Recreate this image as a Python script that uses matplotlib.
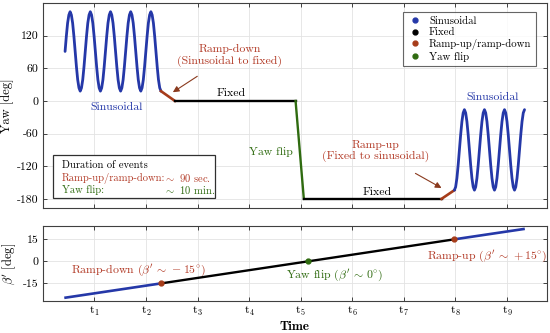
import numpy as np
import matplotlib
matplotlib.use("Agg")
import matplotlib.pyplot as plt
from matplotlib.lines import Line2D
from matplotlib.patches import Rectangle

plt.rcParams['font.family'] = ['cmr10', 'DejaVu Serif']
plt.rcParams['mathtext.fontset'] = 'cm'
plt.rcParams['axes.unicode_minus'] = False

# colours
BLUE = '#2538a8'
RAMP = '#a63c1a'
GREEN = '#2f6b10'
RED_TXT = '#b23a26'

# yaw schedule (time in units of t_k)
sin1_t = np.linspace(0.43, 2.29, 77)
sin1_yaw = [91, 119, 143, 158, 164, 158, 143, 119, 91, 63, 39, 24, 18, 24, 39, 63,
            91, 119, 143, 158, 164, 158, 143, 119, 91, 63, 39, 24, 18, 24, 39, 63,
            91, 119, 143, 158, 164, 158, 143, 119, 91, 63, 39, 24, 18, 24, 39, 63,
            91, 119, 143, 158, 164, 158, 143, 119, 91, 63, 39, 24, 18, 24, 39, 63,
            91, 119, 143, 158, 164, 158, 143, 119, 91, 63, 39, 24, 18]
ramp_down_t = [2.29, 2.56]
ramp_down_yaw = [18, 0]
fixed1_t = [2.56, 4.90]
fixed1_yaw = [0, 0]
flip_t = [4.90, 5.06]
flip_yaw = [0, -180]
fixed2_t = [5.06, 7.73]
fixed2_yaw = [-180, -180]
ramp_up_t = [7.73, 7.98]
ramp_up_yaw = [-180, -164]
sin2_t = np.linspace(7.98, 9.34, 57)
sin2_yaw = [-164, -158, -142, -118, -90, -62, -38, -22, -16, -22, -38, -62, -90, -118, -142, -158,
            -164, -158, -142, -118, -90, -62, -38, -22, -16, -22, -38, -62, -90, -118, -142, -158,
            -164, -158, -142, -118, -90, -62, -38, -22, -16, -22, -38, -62, -90, -118, -142, -158,
            -164, -158, -142, -118, -90, -62, -38, -22, -16]

# beta prime
beta_t = [0.44, 2.29, 5.14, 7.98, 9.32]
beta = [-24.7, -15, 0, 15, 22]

xticks = [1, 2, 3, 4, 5, 6, 7, 8, 9]
xticklabels = [r'$\mathrm{t}_{%d}$' % k for k in xticks]
yaw_ticks = [120, 60, 0, -60, -120, -180]
yaw_labels = ['120', '60', '0', '-60', '-120', '-180']
beta_ticks = [15, 0, -15]
beta_labels = ['15', '0', '-15']

fig = plt.figure(figsize=(5.5, 3.33), dpi=100)
ax1 = fig.add_axes([0.078, 0.375, 0.916, 0.616])
ax2 = fig.add_axes([0.078, 0.096, 0.916, 0.225])

for ax in (ax1, ax2):
    ax.set_xlim(0, 9.77)
    ax.set_xticks(xticks)
    ax.grid(True, color='#e3e3e3', linewidth=0.6)
    ax.set_axisbelow(True)
    ax.tick_params(direction='in', top=True, right=True, length=3,
                   width=0.7, color='#404040', labelsize=8.5, pad=3)
    for s in ax.spines.values():
        s.set_color('#404040')
        s.set_linewidth(0.8)

# ---- top: yaw
ax1.plot(sin1_t, sin1_yaw, color=BLUE, lw=2.0, solid_capstyle='round', solid_joinstyle='round')
ax1.plot(ramp_down_t, ramp_down_yaw, color=RAMP, lw=1.9)
ax1.plot(fixed1_t, fixed1_yaw, color='black', lw=1.7)
ax1.plot(flip_t, flip_yaw, color=GREEN, lw=1.7)
ax1.plot(fixed2_t, fixed2_yaw, color='black', lw=1.7)
ax1.plot(ramp_up_t, ramp_up_yaw, color=RAMP, lw=1.9)
ax1.plot(sin2_t, sin2_yaw, color=BLUE, lw=2.0, solid_capstyle='round', solid_joinstyle='round')

ax1.set_ylim(-197, 180)
ax1.set_yticks(yaw_ticks)
ax1.set_yticklabels(yaw_labels)
ax1.set_xticklabels([])
ax1.set_ylabel('Yaw [deg]', fontsize=9, labelpad=2)

ax1.text(1.43, -11, 'Sinusoidal', color=BLUE, fontsize=8.5, ha='center', va='center')
ax1.text(8.72, 7, 'Sinusoidal', color=BLUE, fontsize=8.5, ha='center', va='center')
ax1.text(3.66, 15, 'Fixed', color='black', fontsize=8.5, ha='center', va='center')
ax1.text(6.49, -167, 'Fixed', color='black', fontsize=8.5, ha='center', va='center')
ax1.text(4.42, -94, 'Yaw flip', color=GREEN, fontsize=8.5, ha='center', va='center')

ax1.annotate('Ramp-down\n(Sinusoidal to fixed)', xy=(2.52, 16), xytext=(3.62, 84),
             color=RED_TXT, fontsize=8.5, ha='center', va='center', multialignment='center',
             arrowprops=dict(arrowstyle='-|>', color='#8a3a1e', lw=0.8,
                             shrinkA=9, shrinkB=0, mutation_scale=9))
ax1.annotate('Ramp-up\n(Fixed to sinusoidal)', xy=(7.73, -160), xytext=(6.45, -92),
             color=RED_TXT, fontsize=8.5, ha='center', va='center', multialignment='center',
             arrowprops=dict(arrowstyle='-|>', color='#8a3a1e', lw=0.8,
                             shrinkA=12, shrinkB=0, mutation_scale=9))

handles = [Line2D([], [], ls='none', marker='o', ms=3.5, color=c)
           for c in (BLUE, 'black', RAMP, GREEN)]
leg = ax1.legend(handles, ['Sinusoidal', 'Fixed', 'Ramp-up/ramp-down', 'Yaw flip'],
                 loc='upper right', bbox_to_anchor=(0.978, 0.955), fontsize=7.8,
                 frameon=True, fancybox=False, edgecolor='#404040',
                 handlelength=1.5, handletextpad=0.5, labelspacing=0.15,
                 borderpad=0.4, borderaxespad=0)
leg.get_frame().set_linewidth(0.8)

# info box
ax1.add_patch(Rectangle((0.02, 0.049), 0.321, 0.21, transform=ax1.transAxes,
                        facecolor='white', edgecolor='#303030', lw=0.9, zorder=5))
ax1.text(0.038, 0.208, 'Duration of events', transform=ax1.transAxes,
         fontsize=7.6, color='black', va='center', zorder=6)
ax1.text(0.038, 0.146, 'Ramp-up/ramp-down:', transform=ax1.transAxes,
         fontsize=7.6, color=RED_TXT, va='center', zorder=6)
ax1.text(0.24, 0.146, r'$\sim$ 90 sec.', transform=ax1.transAxes,
         fontsize=7.6, color=RED_TXT, va='center', zorder=7)
ax1.text(0.038, 0.087, 'Yaw flip:', transform=ax1.transAxes,
         fontsize=7.6, color=GREEN, va='center', zorder=6)
ax1.text(0.24, 0.087, r'$\sim$ 10 min.', transform=ax1.transAxes,
         fontsize=7.6, color=GREEN, va='center', zorder=7)

# ---- bottom: beta prime
ax2.plot(beta_t[:2], beta[:2], color=BLUE, lw=1.9)
ax2.plot(beta_t[1:4], beta[1:4], color='black', lw=1.7)
ax2.plot(beta_t[3:], beta[3:], color=BLUE, lw=1.9)
ax2.plot([beta_t[1], beta_t[3]], [beta[1], beta[3]], ls='none', marker='o',
         ms=3.5, color=RAMP, zorder=4)
ax2.plot([beta_t[2]], [beta[2]], ls='none', marker='o', ms=3.5, color=GREEN, zorder=4)

ax2.set_ylim(-27, 24)
ax2.set_yticks(beta_ticks)
ax2.set_yticklabels(beta_labels)
ax2.set_xticklabels(xticklabels)
ax2.set_ylabel(r"$\beta'$ [deg]", fontsize=9, labelpad=4)
ax2.set_xlabel('Time', fontsize=9.5, fontfamily='cmb10', labelpad=2)

ax2.text(1.86, -6, r"Ramp-down ($\beta'\,\sim\,-15^{\circ}$)", color=RED_TXT,
         fontsize=8.5, ha='center', va='center')
ax2.text(5.66, -9, r"Yaw flip ($\beta'\,\sim\,0^{\circ}$)", color=GREEN,
         fontsize=8.5, ha='center', va='center')
ax2.text(8.62, 4, r"Ramp-up ($\beta'\,\sim\,+15^{\circ}$)", color=RED_TXT,
         fontsize=8.5, ha='center', va='center')

fig.savefig('out.png', dpi=100)
